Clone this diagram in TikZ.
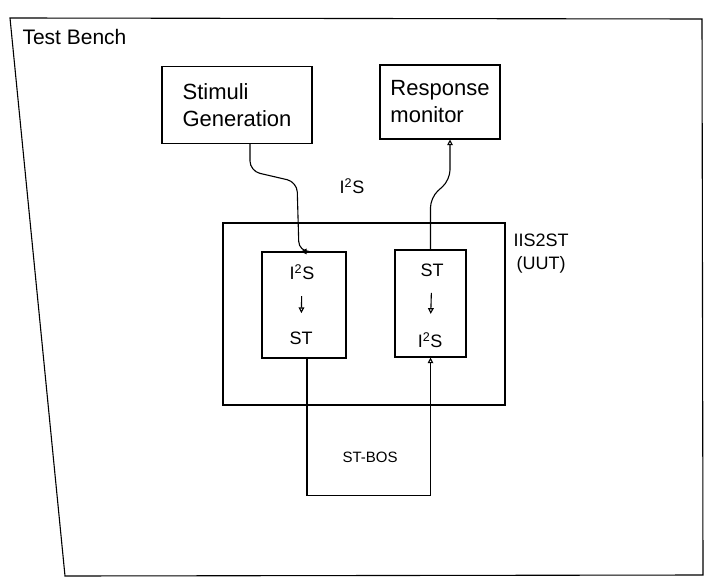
\documentclass[tikz,border=0pt]{standalone}
\usepackage{fontspec}
\setmainfont{Liberation Sans}
\usetikzlibrary{arrows.meta, positioning, calc}

\begin{document}
\begin{tikzpicture}[x=1pt, y=-1pt,
  block/.style={draw, line width=1.1pt, inner sep=0pt},
  arc/.style={-{Triangle[open, length=2mm, width=2mm]}, line width=1.1pt},
  big/.style={font=\fontsize{22}{27}\selectfont, align=left},
  lbl/.style={font=\fontsize{18}{23}\selectfont, align=center}]
  \useasboundingbox (0,0) rectangle (711,585);
  % test bench frame
  \draw[line width=1.1pt] (10,18) -- (702,19) -- (703,575) -- (65,576) -- cycle;
  \node[lbl, anchor=west, font=\fontsize{21}{25}\selectfont] (tb) at (19,37) {Test Bench};
  % blocks
  \node[block, big, minimum width=150pt, minimum height=77pt] (stim) at (237,105) {Stimuli\\Generation};
  \node[block, big, minimum width=120pt, minimum height=74pt] (resp) at (440,102) {Response\\monitor};
  \node[block, minimum width=282pt, minimum height=182pt] (uut) at (364,314) {};
  \node[lbl, anchor=west] (uutl) at (510,254) {IIS2ST\\(UUT)};
  \node[block, minimum width=84pt, minimum height=106pt] (ilft) at (304,305) {};
  \node[block, minimum width=71pt, minimum height=107pt] (irgt) at (430.5,303.5) {};
  % texts in the converters
  \node[lbl] (l1) at (302,272) {I\textsuperscript{2}S};
  \node[lbl] (l2) at (301,338) {ST};
  \node[lbl] (r1) at (432,270) {ST};
  \node[lbl] (r2) at (430,340) {I\textsuperscript{2}S};
  \draw[arc, shorten <=13pt, shorten >=15pt] (l1) -- (l2);
  \draw[arc, shorten <=13pt, shorten >=15pt] (r1) -- (r2);
  \node[lbl] (i2s) at (352,186) {I\textsuperscript{2}S};
  \node[lbl, font=\fontsize{15}{18}\selectfont] (bos) at (370,457) {ST-BOS};
  % connections
  \draw[arc, rounded corners=10pt] ([xshift=13pt]stim.south) -- ++(0,27) -- (297,182) -- (ilft.north -| 299,0) -- ([xshift=-3pt]ilft.north);
  \draw[arc, rounded corners=10pt] (irgt.north) -- ++(0,-52) -- (450,180) -- ([xshift=10pt]resp.south);
  \draw[arc] ([xshift=3pt]ilft.south) -- ++(0,137) -| (irgt.south);
\end{tikzpicture}
\end{document}
